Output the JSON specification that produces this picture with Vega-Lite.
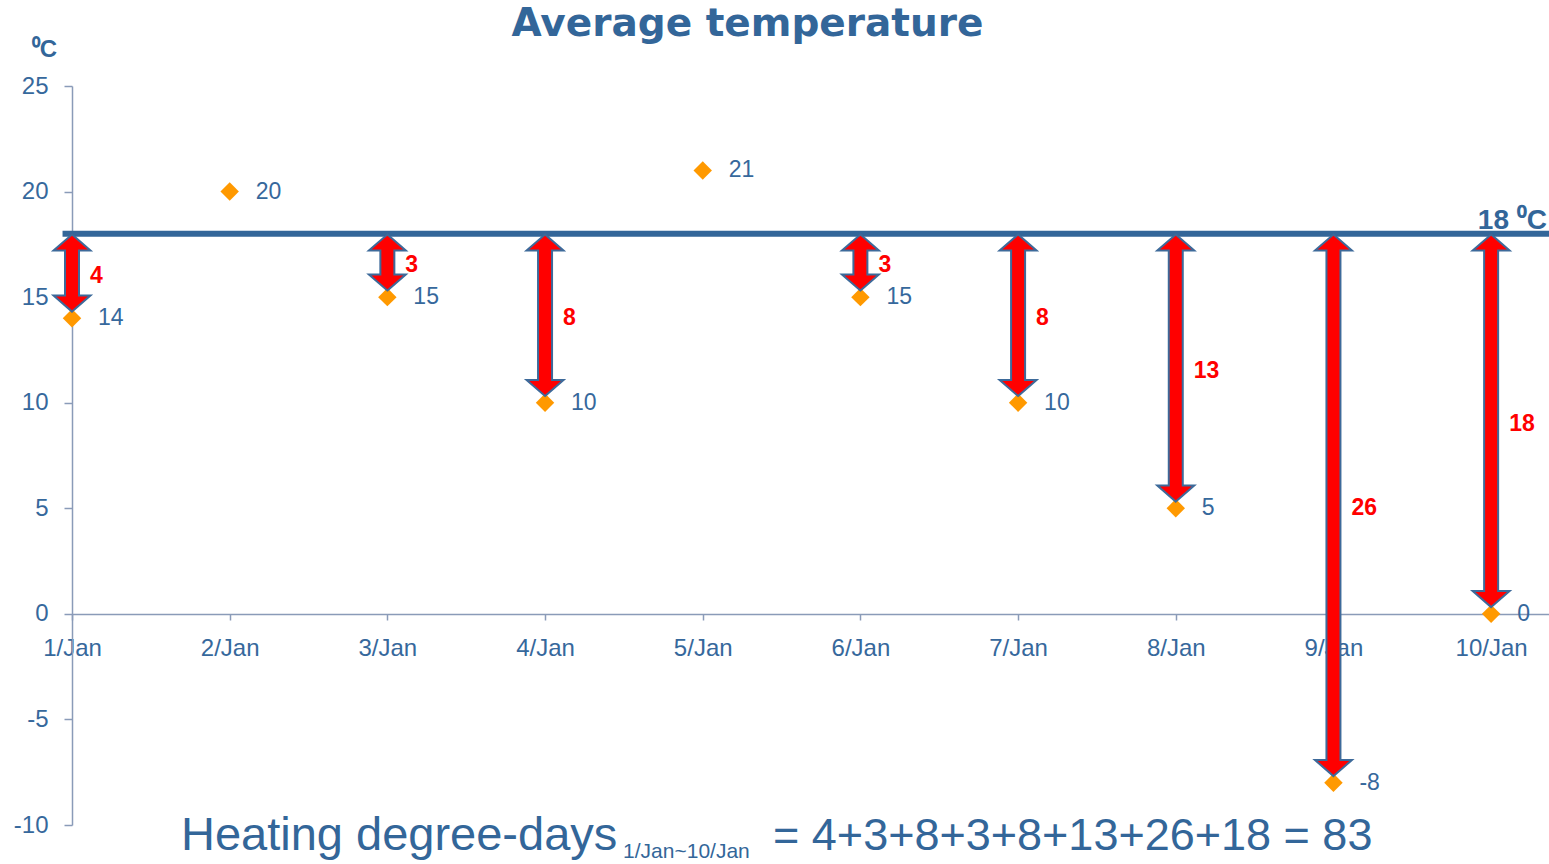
{
  "$schema": "https://vega.github.io/schema/vega-lite/v6.json",
  "description": "Daily average temperature for 1-10 January against an 18 ºC base, with the heating degree-days of each day drawn as arrows.",
  "autosize": {"type": "none"},
  "padding": {"left": 72, "top": 86, "right": 0, "bottom": 39},
  "width": 1477,
  "height": 739,
  "background": "white",
  "title": {
    "text": "Average temperature",
    "font": "DejaVu Sans",
    "fontSize": 39,
    "fontWeight": "bold",
    "color": "#336699",
    "anchor": "middle",
    "frame": "group",
    "dx": -63,
    "baseline": "alphabetic",
    "offset": -38
  },
  "config": {"view": {"stroke": null}, "axis": {"grid": false}},
  "data": {
    "values": [
      {"day": 1, "temp": 14, "hdd": 4},
      {"day": 2, "temp": 20, "hdd": 0},
      {"day": 3, "temp": 15, "hdd": 3},
      {"day": 4, "temp": 10, "hdd": 8},
      {"day": 5, "temp": 21, "hdd": 0},
      {"day": 6, "temp": 15, "hdd": 3},
      {"day": 7, "temp": 10, "hdd": 8},
      {"day": 8, "temp": 5, "hdd": 13},
      {"day": 9, "temp": -8, "hdd": 26},
      {"day": 10, "temp": 0, "hdd": 18}
    ]
  },
  "layer": [
    {
      "layer": [
        {
          "mark": {"type": "point", "shape": "diamond", "filled": true, "color": "#ff9900", "size": 340, "opacity": 1},
          "encoding": {
            "x": {
              "field": "day",
              "type": "quantitative",
              "scale": {"domain": [1, 10.367], "nice": false, "zero": false, "padding": 0},
              "axis": {
                "orient": "bottom",
                "offset": -211,
                "values": [1, 2, 3, 4, 5, 6, 7, 8, 9, 10],
                "labelExpr": "datum.value + '/Jan'",
                "title": null,
                "grid": false,
                "domainColor": "#8a9bb8",
                "domainWidth": 1.5,
                "tickColor": "#8a9bb8",
                "tickWidth": 1.5,
                "tickSize": 6,
                "labelFont": "Liberation Sans",
                "labelFontSize": 24,
                "labelColor": "#36689c",
                "labelPadding": 16,
                "labelFlush": false,
                "labelOverlap": false
              }
            },
            "y": {
              "field": "temp",
              "type": "quantitative",
              "scale": {"domain": [-10, 25], "nice": false, "zero": false, "padding": 0},
              "axis": {
                "values": [-10, -5, 0, 5, 10, 15, 20, 25],
                "labelExpr": "'' + datum.value",
                "grid": false,
                "domainColor": "#8a9bb8",
                "domainWidth": 1.5,
                "tickColor": "#8a9bb8",
                "tickWidth": 1.5,
                "tickSize": 8,
                "labelFont": "Liberation Sans",
                "labelFontSize": 24,
                "labelColor": "#36689c",
                "labelPadding": 16,
                "title": "⁰C",
                "titleAngle": 0,
                "titleX": -28,
                "titleY": -30,
                "titleAlign": "center",
                "titleBaseline": "alphabetic",
                "titleFont": "Liberation Sans",
                "titleFontSize": 24,
                "titleFontWeight": "bold",
                "titleColor": "#336699"
              }
            }
          }
        },
        {
          "mark": {"type": "text", "align": "left", "baseline": "middle", "dx": 26, "font": "Liberation Sans", "fontSize": 23, "color": "#36689c"},
          "encoding": {
            "x": {"field": "day", "type": "quantitative"},
            "y": {"field": "temp", "type": "quantitative"},
            "text": {"field": "temp", "type": "nominal"}
          }
        },
        {
          "data": {"values": [{"base": 18, "label": "18 ⁰C"}]},
          "layer": [
            {
              "mark": {"type": "rule", "color": "#336699", "strokeWidth": 6},
              "encoding": {
                "x": {"datum": 0.94, "type": "quantitative"},
                "x2": {"datum": 10.367},
                "y": {"field": "base", "type": "quantitative"}
              }
            },
            {
              "mark": {"type": "text", "align": "right", "baseline": "alphabetic", "dx": -2, "dy": -5, "font": "Liberation Sans", "fontSize": 28, "fontWeight": "bold", "color": "#336699"},
              "encoding": {
                "x": {"datum": 10.367, "type": "quantitative"},
                "y": {"field": "base", "type": "quantitative"},
                "text": {"field": "label"}
              }
            }
          ]
        },
        {
          "transform": [{"filter": "datum.hdd > 0"}],
          "layer": [
            {
              "mark": {"type": "bar", "size": 12, "color": "#3d6a9a", "stroke": "#3d6a9a", "strokeWidth": 4, "yOffset": -19, "y2Offset": 13},
              "encoding": {
                "x": {"field": "day", "type": "quantitative"},
                "y": {"field": "temp", "type": "quantitative"},
                "y2": {"datum": 18}
              }
            },
            {
              "mark": {"type": "point", "shape": "M0,0L1,0.87L-1,0.87Z", "filled": true, "color": "#3d6a9a", "stroke": "#3d6a9a", "strokeWidth": 4, "strokeJoin": "miter", "size": 1000, "opacity": 1, "yOffset": 2},
              "encoding": {
                "x": {"field": "day", "type": "quantitative"},
                "y": {"datum": 18, "type": "quantitative"}
              }
            },
            {
              "mark": {"type": "point", "shape": "M0,0L1,-0.87L-1,-0.87Z", "filled": true, "color": "#3d6a9a", "stroke": "#3d6a9a", "strokeWidth": 4, "strokeJoin": "miter", "size": 1000, "opacity": 1, "yOffset": -8},
              "encoding": {
                "x": {"field": "day", "type": "quantitative"},
                "y": {"field": "temp", "type": "quantitative"}
              }
            },
            {
              "mark": {"type": "bar", "size": 12, "color": "#ff0000", "yOffset": -19, "y2Offset": 13},
              "encoding": {
                "x": {"field": "day", "type": "quantitative"},
                "y": {"field": "temp", "type": "quantitative"},
                "y2": {"datum": 18}
              }
            },
            {
              "mark": {"type": "point", "shape": "M0,0L1,0.87L-1,0.87Z", "filled": true, "color": "#ff0000", "size": 1000, "opacity": 1, "yOffset": 2},
              "encoding": {
                "x": {"field": "day", "type": "quantitative"},
                "y": {"datum": 18, "type": "quantitative"}
              }
            },
            {
              "mark": {"type": "point", "shape": "M0,0L1,-0.87L-1,-0.87Z", "filled": true, "color": "#ff0000", "size": 1000, "opacity": 1, "yOffset": -8},
              "encoding": {
                "x": {"field": "day", "type": "quantitative"},
                "y": {"field": "temp", "type": "quantitative"}
              }
            }
          ]
        },
        {
          "data": {"values": [{"main": "Heating degree-days", "range": "1/Jan~10/Jan", "sum": "= 4+3+8+3+8+13+26+18 = 83"}]},
          "layer": [
            {
              "mark": {"type": "text", "align": "left", "baseline": "alphabetic", "font": "Liberation Sans", "fontSize": 47, "color": "#336699"},
              "encoding": {
                "x": {"datum": 1.691, "type": "quantitative"},
                "y": {"datum": -11.17, "type": "quantitative"},
                "text": {"field": "main"}
              }
            },
            {
              "mark": {"type": "text", "align": "left", "baseline": "alphabetic", "font": "Liberation Sans", "fontSize": 21, "color": "#336699"},
              "encoding": {
                "x": {"datum": 4.495, "type": "quantitative"},
                "y": {"datum": -11.55, "type": "quantitative"},
                "text": {"field": "range"}
              }
            },
            {
              "mark": {"type": "text", "align": "left", "baseline": "alphabetic", "font": "Liberation Sans", "fontSize": 45, "color": "#336699"},
              "encoding": {
                "x": {"datum": 5.446, "type": "quantitative"},
                "y": {"datum": -11.17, "type": "quantitative"},
                "text": {"field": "sum"}
              }
            }
          ]
        }
      ]
    },
    {
      "transform": [{"filter": "datum.hdd > 0"}],
      "mark": {"type": "text", "align": "left", "baseline": "middle", "dx": 18, "font": "Liberation Sans", "fontSize": 23, "fontWeight": "bold", "color": "#ff0000"},
      "encoding": {
        "x": {"field": "day", "type": "quantitative"},
        "y": {
          "field": "hdd",
          "type": "quantitative",
          "scale": {"domain": [-14, 56], "reverse": true, "nice": false, "zero": false},
          "axis": null
        },
        "text": {"field": "hdd", "type": "nominal"}
      }
    }
  ],
  "resolve": {"scale": {"y": "independent"}}
}
